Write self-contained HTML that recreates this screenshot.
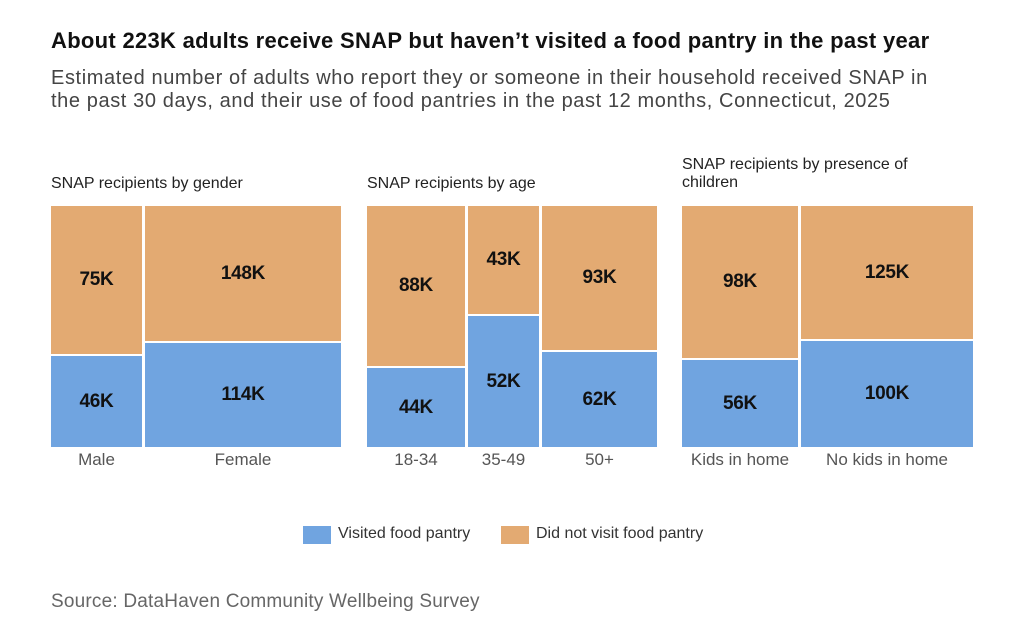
<!DOCTYPE html>
<html><head><meta charset="utf-8"><style>
body{margin:0;width:1024px;height:640px;background:#fff;font-family:"Liberation Sans",sans-serif;position:relative;overflow:hidden;color:#222}
.a{position:absolute;white-space:nowrap}
.o{position:absolute;background:#E3AA72}
.b{position:absolute;background:#70A4E0}
.v{position:absolute;display:flex;align-items:center;justify-content:center;font-weight:bold;font-size:19px;color:#111;letter-spacing:-0.3px}
.lab{position:absolute;text-align:center;font-size:17px;color:#555;top:450px}
.ph{font-size:16px;color:#222;letter-spacing:0px}
</style></head><body>
<div class="a" style="left:51px;top:28px;font-size:22px;font-weight:bold;color:#111;letter-spacing:0.3px">About 223K adults receive SNAP but haven’t visited a food pantry in the past year</div>
<div class="a" style="left:51px;top:67px;font-size:20px;color:#444;line-height:23px;letter-spacing:0.6px">Estimated number of adults who report they or someone in their household received SNAP in<br>the past 30 days, and their use of food pantries in the past 12 months, Connecticut, 2025</div>

<div class="a ph" style="left:51px;top:175px">SNAP recipients by gender</div>
<div class="a ph" style="left:367px;top:175px">SNAP recipients by age</div>
<div class="a ph" style="left:682px;top:156px;line-height:18px">SNAP recipients by presence of<br>children</div>

<!-- panel 1 -->
<div class="o v" style="left:51px;top:206px;width:91px;height:148px">75K</div>
<div class="b v" style="left:51px;top:356px;width:91px;height:91px">46K</div>
<div class="o v" style="left:145px;top:206px;width:196px;height:135px">148K</div>
<div class="b v" style="left:145px;top:343px;width:196px;height:104px">114K</div>
<div class="lab" style="left:51px;width:91px">Male</div>
<div class="lab" style="left:145px;width:196px">Female</div>

<!-- panel 2 -->
<div class="o v" style="left:367px;top:206px;width:98px;height:160px">88K</div>
<div class="b v" style="left:367px;top:368px;width:98px;height:79px">44K</div>
<div class="o v" style="left:468px;top:206px;width:71px;height:108px">43K</div>
<div class="b v" style="left:468px;top:316px;width:71px;height:131px">52K</div>
<div class="o v" style="left:542px;top:206px;width:115px;height:144px">93K</div>
<div class="b v" style="left:542px;top:352px;width:115px;height:95px">62K</div>
<div class="lab" style="left:367px;width:98px">18-34</div>
<div class="lab" style="left:468px;width:71px">35-49</div>
<div class="lab" style="left:542px;width:115px">50+</div>

<!-- panel 3 -->
<div class="o v" style="left:682px;top:206px;width:116px;height:152px">98K</div>
<div class="b v" style="left:682px;top:360px;width:116px;height:87px">56K</div>
<div class="o v" style="left:801px;top:206px;width:172px;height:133px">125K</div>
<div class="b v" style="left:801px;top:341px;width:172px;height:106px">100K</div>
<div class="lab" style="left:682px;width:116px">Kids in home</div>
<div class="lab" style="left:801px;width:172px">No kids in home</div>

<!-- legend -->
<div class="b" style="left:303px;top:526px;width:28px;height:18px"></div>
<div class="a" style="left:338px;top:525px;font-size:16px;color:#333">Visited food pantry</div>
<div class="o" style="left:501px;top:526px;width:28px;height:18px"></div>
<div class="a" style="left:536px;top:525px;font-size:16px;color:#333">Did not visit food pantry</div>

<div class="a" style="left:51px;top:591px;font-size:19px;color:#666;letter-spacing:0.2px">Source: DataHaven Community Wellbeing Survey</div>
</body></html>
